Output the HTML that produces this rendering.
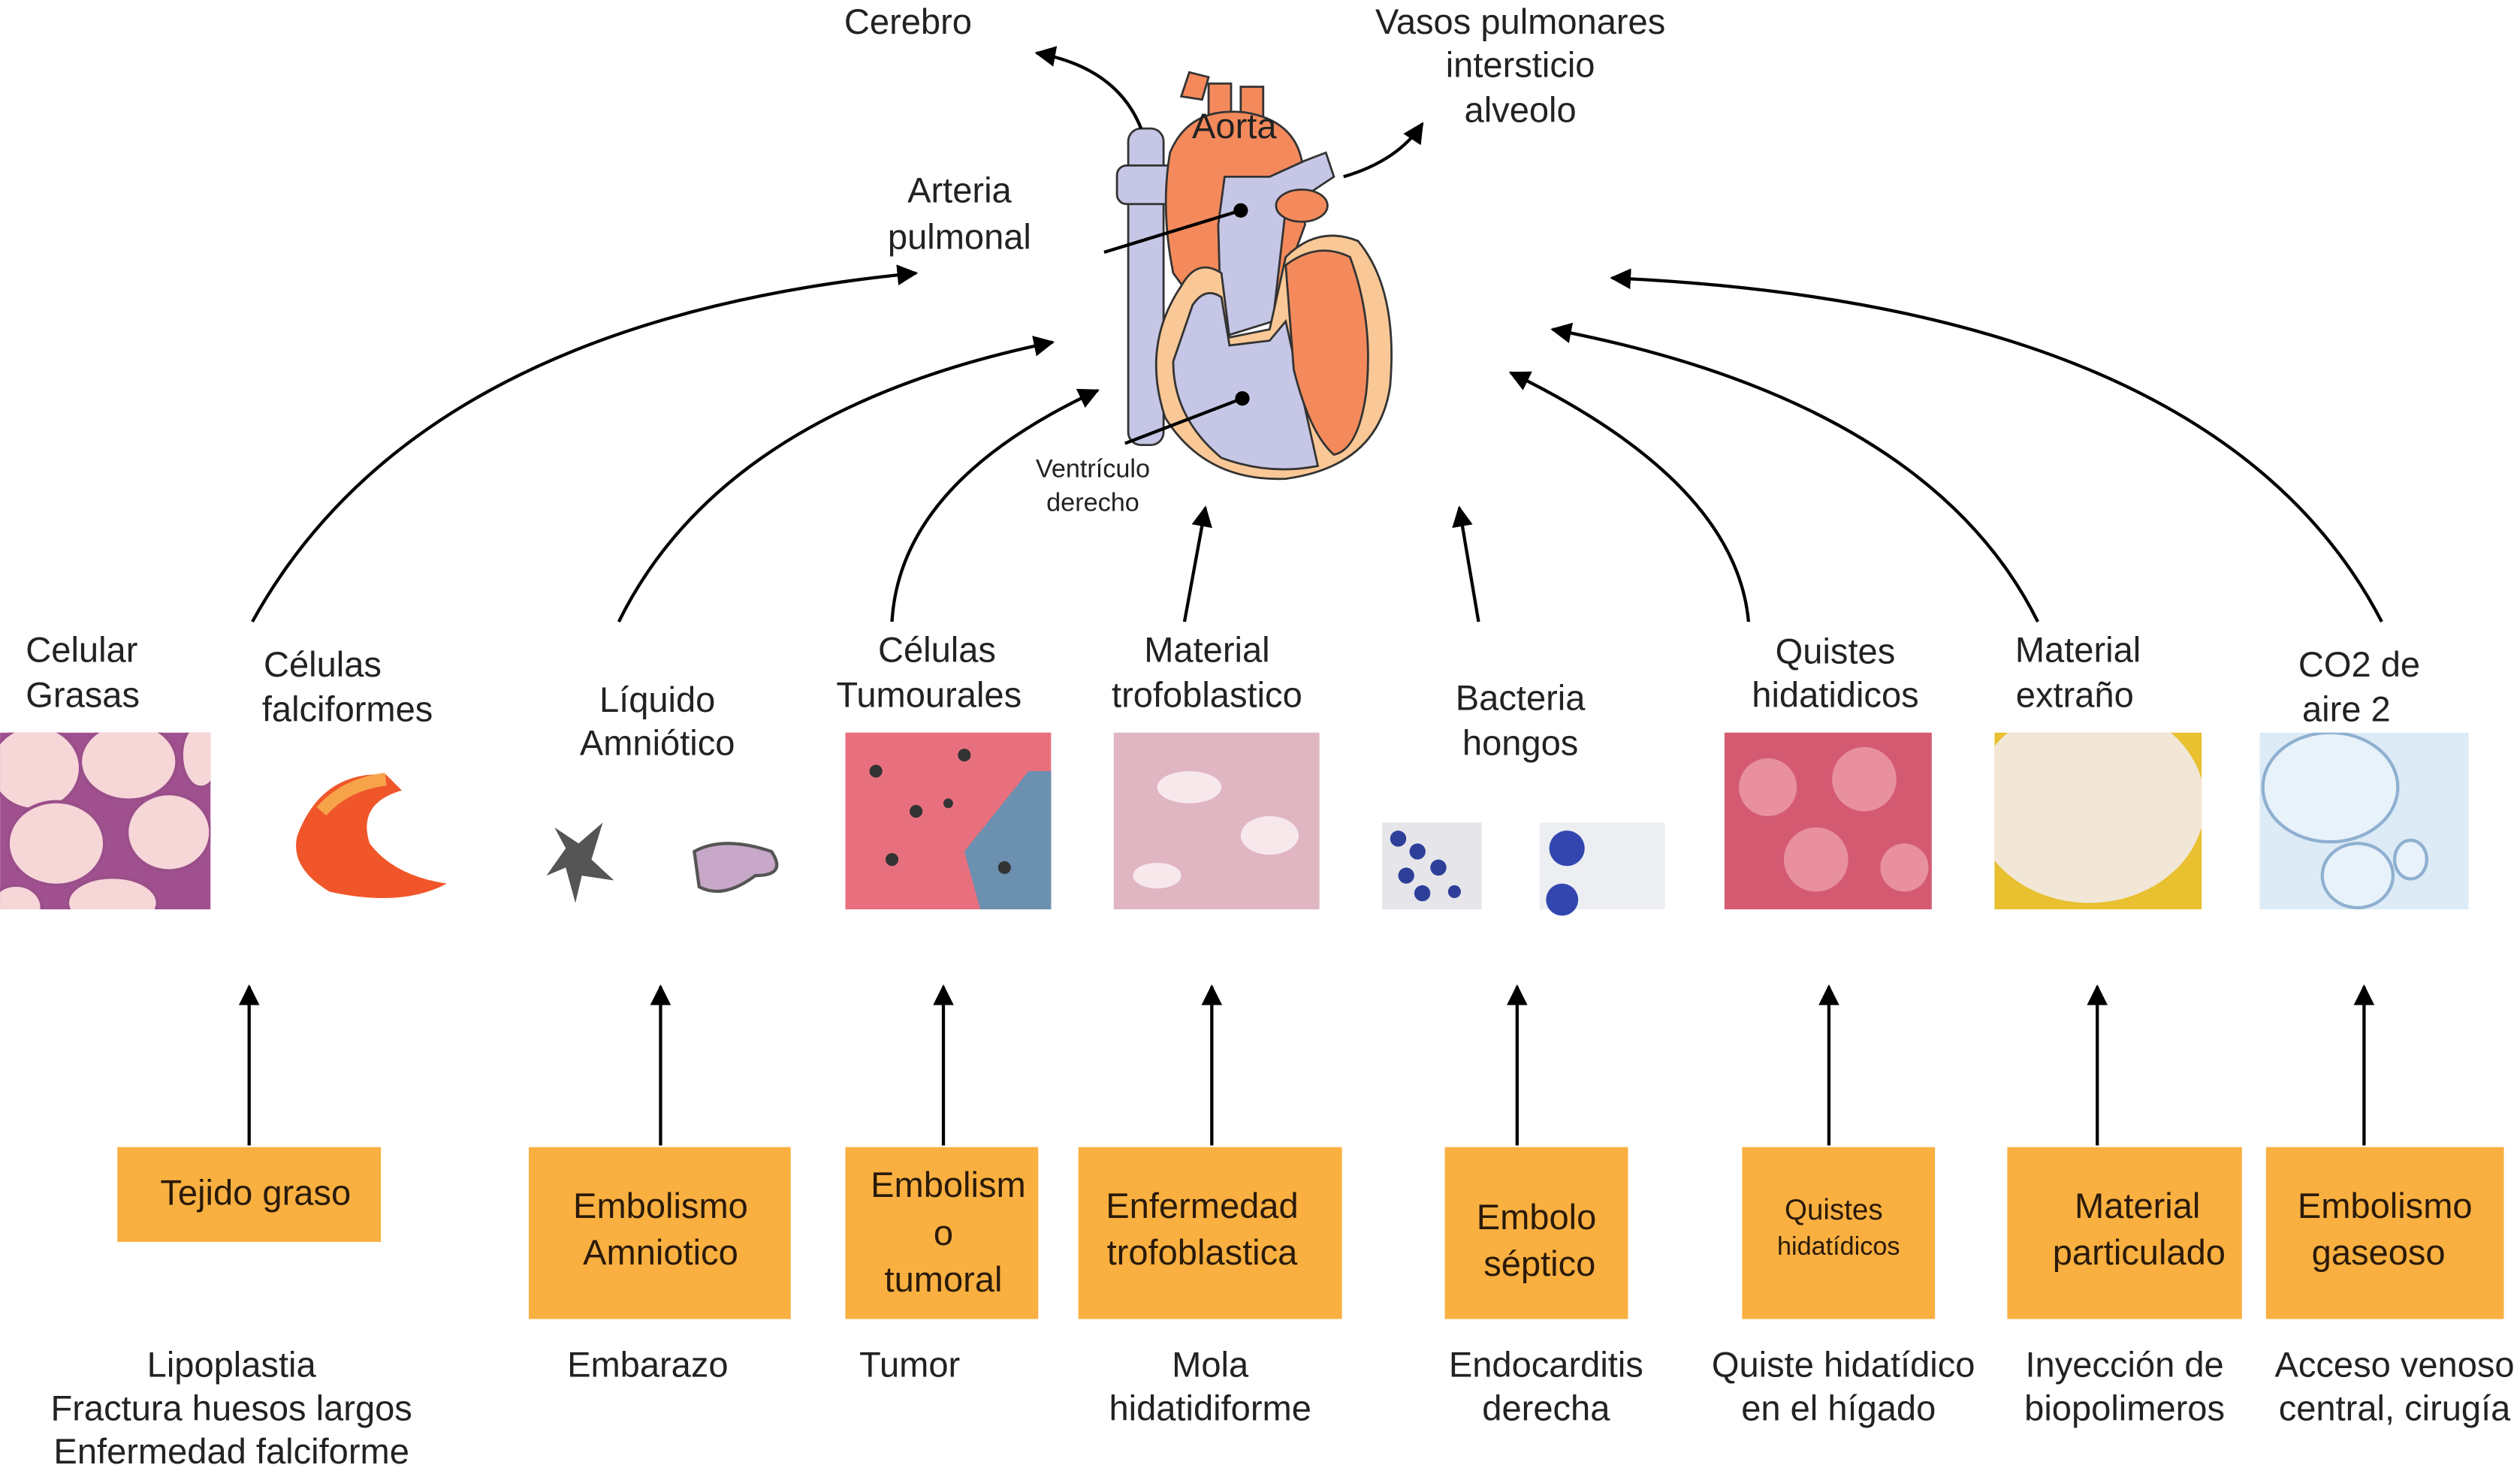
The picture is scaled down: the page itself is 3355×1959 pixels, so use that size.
<!DOCTYPE html>
<html><head><meta charset="utf-8"><style>html,body{margin:0;padding:0;background:#fff}svg{display:block}</style></head>
<body>
<svg xmlns="http://www.w3.org/2000/svg" width="3355" height="1959" viewBox="0 0 1568 915.6" font-family="Liberation Sans, sans-serif" fill="#222">
<defs>
<marker id="ab" viewBox="0 0 10 10" refX="9" refY="5" markerWidth="13" markerHeight="13" orient="auto" markerUnits="userSpaceOnUse"><path d="M0,0L10,5L0,10z" fill="#000"/></marker>
<clipPath id="c1"><rect x="0" y="456" width="131" height="110"/></clipPath>
<clipPath id="c2"><rect x="1241" y="456" width="129" height="110"/></clipPath>
<clipPath id="c3"><rect x="1406" y="456" width="130" height="110"/></clipPath>
</defs>
<rect width="1568" height="916" fill="#fff"/>

<!-- Heart -->
<g stroke="#333" stroke-width="1.3">
<rect x="702" y="80" width="22" height="197" rx="8" fill="#c6c6e6"/>
<rect x="695" y="103" width="40" height="24" rx="6" fill="#c6c6e6"/>
<path d="M735,60 L740,45 L752,48 L748,62z" fill="#f48a5c"/>
<rect x="752" y="52" width="14" height="22" fill="#f48a5c"/>
<rect x="772" y="54" width="14" height="22" fill="#f48a5c"/>
<path d="M728,95 Q740,66 775,70 Q805,75 810,100 L812,140 L790,200 L752,200 L730,170 Q722,130 728,95z" fill="#f48a5c"/>
<path d="M758,140 L762,110 L790,110 L812,100 L825,95 L830,110 L800,130 L792,200 L760,210z" fill="#c6c6e6"/>
<ellipse cx="810" cy="128" rx="16" ry="10" fill="#f48a5c"/>
<path d="M735,178 Q745,160 760,170 L765,210 L790,205 L800,160 Q820,140 845,150 Q870,180 865,240 Q858,290 800,298 Q750,300 725,260 Q710,215 735,178z" fill="#f9c896"/>
<path d="M742,190 Q750,178 760,185 L765,215 L790,212 L800,200 L820,290 Q790,296 760,285 Q730,260 730,225z" fill="#c6c6e6"/>
<path d="M800,165 Q820,150 840,160 Q855,200 850,245 Q845,280 830,283 Q815,270 805,230z" fill="#f48a5c"/>
</g>
<circle cx="772" cy="131" r="4.5" fill="#000"/>
<circle cx="773" cy="248" r="4.5" fill="#000"/>
<line x1="687" y1="157" x2="772" y2="131" stroke="#000" stroke-width="2"/>
<line x1="700" y1="276" x2="773" y2="248" stroke="#000" stroke-width="2"/>

<g font-size="22" text-anchor="middle">
<text x="565" y="21">Cerebro</text>
<text x="946" y="21">Vasos pulmonares</text>
<text x="946" y="48">intersticio</text>
<text x="946" y="76">alveolo</text>
<text x="768" y="86">Aorta</text>
<text x="597" y="126">Arteria</text>
<text x="597" y="155">pulmonal</text>
<text x="680" y="297" font-size="16">Ventrículo</text>
<text x="680" y="318" font-size="16">derecho</text>
</g>

<g fill="none" stroke="#000" stroke-width="2" marker-end="url(#ab)">
<path d="M710,80 Q695,42 645,33"/>
<path d="M836,110 Q870,100 885,77"/>
<path d="M157,387 Q260,200 570,170"/>
<path d="M385,387 Q450,255 655,213"/>
<path d="M555,387 Q560,300 683,243"/>
<path d="M737,387 L750,316"/>
<path d="M920,387 L908,316"/>
<path d="M1088,387 Q1080,300 940,232"/>
<path d="M1268,387 Q1200,250 966,205"/>
<path d="M1482,387 Q1380,190 1003,173"/>
</g>

<g font-size="22">
<text x="16" y="412">Celular</text>
<text x="16" y="440">Grasas</text>
<text x="164" y="421">Células</text>
<text x="163" y="449">falciformes</text>
<g text-anchor="middle">
<text x="409" y="443">Líquido</text>
<text x="409" y="470">Amniótico</text>
<text x="583" y="412">Células</text>
<text x="578" y="440">Tumourales</text>
<text x="751" y="412">Material</text>
<text x="751" y="440">trofoblastico</text>
<text x="946" y="442">Bacteria</text>
<text x="946" y="470">hongos</text>
<text x="1142" y="413">Quistes</text>
<text x="1142" y="440">hidatidicos</text>
<text x="1293" y="412">Material</text>
<text x="1291" y="440">extraño</text>
<text x="1468" y="421">CO2 de</text>
<text x="1460" y="449">aire 2</text>
</g></g>

<!-- images -->
<g clip-path="url(#c1)">
<rect x="0" y="456" width="131" height="110" fill="#a0508e"/>
<g fill="#f7d6d8" stroke="#9a4f8a" stroke-width="2"><ellipse cx="22" cy="478" rx="28" ry="26"/><ellipse cx="80" cy="474" rx="30" ry="24"/><ellipse cx="35" cy="525" rx="30" ry="26"/><ellipse cx="105" cy="518" rx="26" ry="24"/><ellipse cx="70" cy="562" rx="28" ry="16"/><ellipse cx="125" cy="470" rx="12" ry="20"/><ellipse cx="10" cy="565" rx="16" ry="14"/></g>
</g>
<path d="M185,520 Q200,480 240,482 L250,492 Q222,500 230,525 Q245,545 278,550 Q250,565 205,555 Q180,540 185,520z" fill="#f0562a"/>
<path d="M200,505 Q215,488 240,485" stroke="#f7a34a" stroke-width="8" fill="none"/>
<path d="M345,515 L360,525 L375,512 L368,535 L382,548 L362,545 L358,562 L352,540 L340,545 L352,528z" fill="#555"/>
<path d="M432,530 Q450,520 480,530 Q490,545 470,545 Q450,560 435,552z" fill="#c8a8c8" stroke="#555" stroke-width="2"/>
<rect x="526" y="456" width="128" height="110" fill="#e8707e"/>
<path d="M600,530 L640,480 L654,480 L654,566 L610,566z" fill="#6b90b0"/>
<g fill="#333"><circle cx="545" cy="480" r="4"/><circle cx="570" cy="505" r="4"/><circle cx="555" cy="535" r="4"/><circle cx="600" cy="470" r="4"/><circle cx="625" cy="540" r="4"/><circle cx="590" cy="500" r="3"/></g>
<rect x="693" y="456" width="128" height="110" fill="#e0b6c2"/>
<g fill="#f7e8ec"><ellipse cx="740" cy="490" rx="20" ry="10"/><ellipse cx="790" cy="520" rx="18" ry="12"/><ellipse cx="720" cy="545" rx="15" ry="8"/></g>
<rect x="860" y="512" width="62" height="54" fill="#e6e6ea"/>
<g fill="#2e3f9a"><circle cx="870" cy="522" r="5"/><circle cx="882" cy="530" r="5"/><circle cx="875" cy="545" r="5"/><circle cx="895" cy="540" r="5"/><circle cx="885" cy="556" r="5"/><circle cx="905" cy="555" r="4"/></g>
<rect x="958" y="512" width="78" height="54" fill="#eceef2"/>
<circle cx="975" cy="528" r="11" fill="#3346b0"/><circle cx="972" cy="560" r="10" fill="#3346b0"/>
<rect x="1073" y="456" width="129" height="110" fill="#d45a72"/>
<g fill="#e8909e"><circle cx="1100" cy="490" r="18"/><circle cx="1160" cy="485" r="20"/><circle cx="1130" cy="535" r="20"/><circle cx="1185" cy="540" r="15"/></g>
<g clip-path="url(#c2)">
<rect x="1241" y="456" width="129" height="110" fill="#e8c030"/>
<ellipse cx="1300" cy="500" rx="72" ry="62" fill="#f2e6d6"/>
</g>
<g clip-path="url(#c3)">
<rect x="1406" y="456" width="130" height="110" fill="#dcebf6"/>
<g fill="#e8f2fa" stroke="#8fb0d0" stroke-width="2"><ellipse cx="1450" cy="490" rx="42" ry="34"/><ellipse cx="1467" cy="545" rx="22" ry="20"/><ellipse cx="1500" cy="535" rx="10" ry="12"/></g>
</g>

<g stroke="#000" stroke-width="2" marker-end="url(#ab)">
<line x1="155" y1="713" x2="155" y2="614"/>
<line x1="411" y1="713" x2="411" y2="614"/>
<line x1="587" y1="713" x2="587" y2="614"/>
<line x1="754" y1="713" x2="754" y2="614"/>
<line x1="944" y1="713" x2="944" y2="614"/>
<line x1="1138" y1="713" x2="1138" y2="614"/>
<line x1="1305" y1="713" x2="1305" y2="614"/>
<line x1="1471" y1="713" x2="1471" y2="614"/>
</g>

<g fill="#f9b040">
<rect x="73" y="714" width="164" height="59"/>
<rect x="329" y="714" width="163" height="107"/>
<rect x="526" y="714" width="120" height="107"/>
<rect x="671" y="714" width="164" height="107"/>
<rect x="899" y="714" width="114" height="107"/>
<rect x="1084" y="714" width="120" height="107"/>
<rect x="1249" y="714" width="146" height="107"/>
<rect x="1410" y="714" width="148" height="107"/>
</g>
<g font-size="22" text-anchor="middle" fill="#2a1a0a">
<text x="159" y="750">Tejido graso</text>
<text x="411" y="758">Embolismo</text><text x="411" y="787">Amniotico</text>
<text x="590" y="745">Embolism</text><text x="587" y="775">o</text><text x="587" y="804">tumoral</text>
<text x="748" y="758">Enfermedad</text><text x="748" y="787">trofoblastica</text>
<text x="956" y="765">Embolo</text><text x="958" y="794">séptico</text>
<text x="1141" y="759" font-size="18">Quistes</text><text x="1144" y="781" font-size="16">hidatídicos</text>
<text x="1330" y="758">Material</text><text x="1331" y="787">particulado</text>
<text x="1484" y="758">Embolismo</text><text x="1480" y="787">gaseoso</text>
</g>

<g font-size="22" text-anchor="middle">
<text x="144" y="857">Lipoplastia</text>
<text x="144" y="884">Fractura huesos largos</text>
<text x="144" y="911">Enfermedad falciforme</text>
<text x="403" y="857">Embarazo</text>
<text x="566" y="857">Tumor</text>
<text x="753" y="857">Mola</text><text x="753" y="884">hidatidiforme</text>
<text x="962" y="857">Endocarditis</text><text x="962" y="884">derecha</text>
<text x="1147" y="857">Quiste hidatídico</text><text x="1144" y="884">en el hígado</text>
<text x="1322" y="857">Inyección de</text><text x="1322" y="884">biopolimeros</text>
<text x="1490" y="857">Acceso venoso</text><text x="1490" y="884">central, cirugía</text>
</g>
</svg>
</body></html>
